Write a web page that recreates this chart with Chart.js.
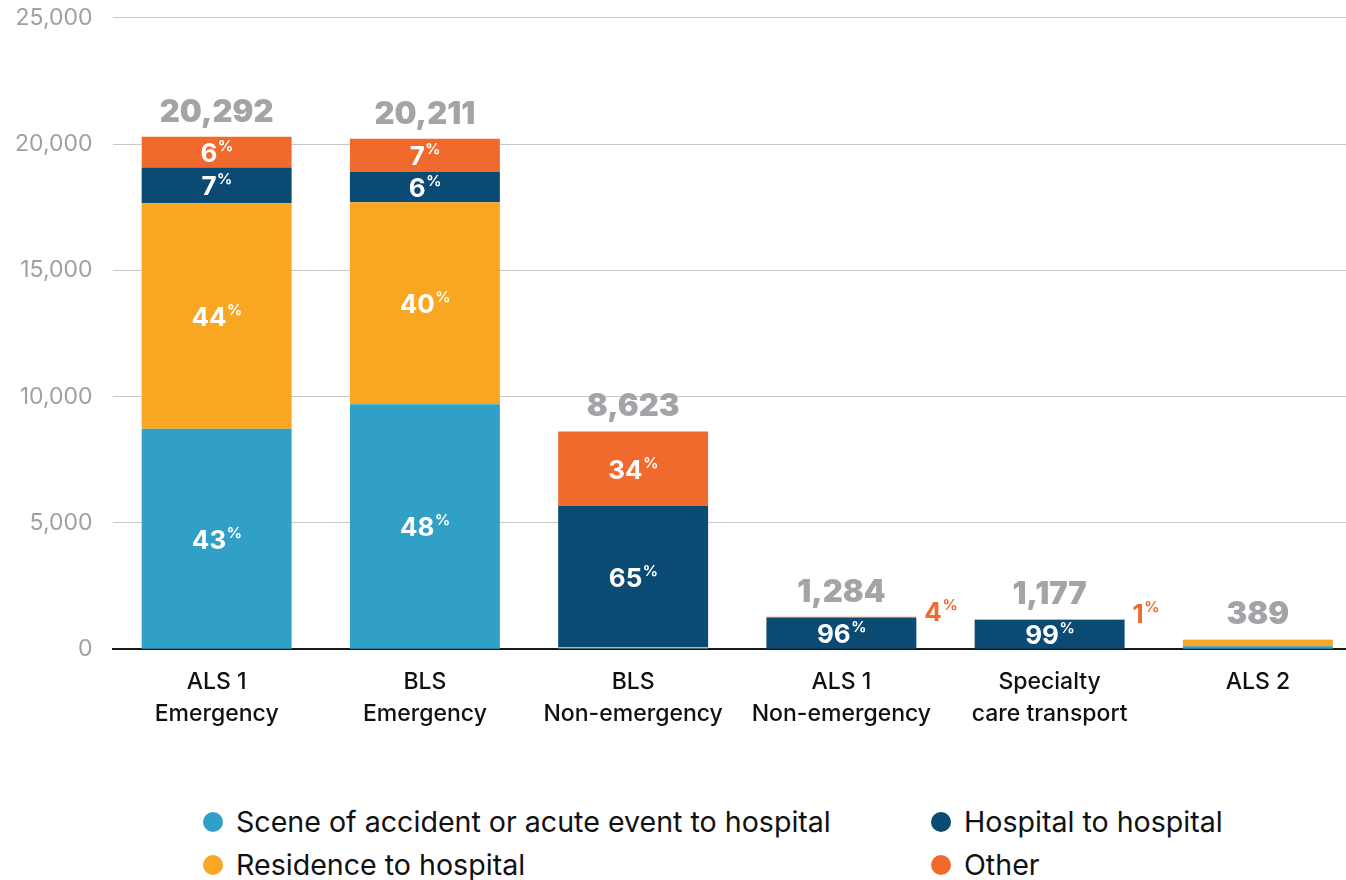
<!DOCTYPE html>
<html>
<head>
<meta charset="utf-8">
<script src="https://cdn.jsdelivr.net/npm/chart.js@4.4.0/dist/chart.umd.min.js"></script>
<style>
  html, body { margin: 0; padding: 0; background: #fff; overflow: hidden; }
  #wrap { position: relative; width: 1362px; height: 880px; }
  #legend { position: absolute; left: 0; top: 800px; width: 1346px; font-family: Inter, "Noto Sans", sans-serif; font-size: 28.6px; color: #111; }
  .item { position: absolute; display: flex; align-items: center; white-space: nowrap; }
  .dot { width: 20px; height: 20px; border-radius: 50%; margin-right: 13px; }
</style>
</head>
<body>
<div id="wrap">
  <canvas id="chart" width="1362" height="739"></canvas>
  <div id="legend"></div>
</div>
<script>
const categories = [["ALS 1", "Emergency"], ["BLS", "Emergency"], ["BLS", "Non-emergency"], ["ALS 1", "Non-emergency"], ["Specialty", "care transport"], ["ALS 2"]];
const totals = [20292, 20211, 8623, 1284, 1177, 389];

const sceneValues = [8726, 9700, 35, 0, 0, 120];
const residenceValues = [8928, 8000, 40, 0, 0, 250];
const hospitalValues = [1420, 1190, 5600, 1233, 1165, 0];
const otherValues = [1218, 1321, 2948, 51, 12, 19];

const scenePct = ["43", "48", null, null, null, null];
const residencePct = ["44", "40", null, null, null, null];
const hospitalPct = ["7", "6", "65", "96", "99", null];
const otherPct = ["6", "7", "34", "4", "1", null];

const yTicks = [0, 5000, 10000, 15000, 20000, 25000];

const FONT = 'Inter, "Noto Sans", sans-serif';

const datasets = [
  { label: 'Scene of accident or acute event to hospital', data: sceneValues, pct: scenePct, backgroundColor: '#31a0c7' },
  { label: 'Residence to hospital', data: residenceValues, pct: residencePct, backgroundColor: '#f9a623' },
  { label: 'Hospital to hospital', data: hospitalValues, pct: hospitalPct, backgroundColor: '#0a4a73' },
  { label: 'Other', data: otherValues, pct: otherPct, backgroundColor: '#f16a2d' }
];

// percent labels inside segments (or beside the bar if too thin) + totals above
const labelPlugin = {
  id: 'labels',
  afterDatasetsDraw(chart) {
    const ctx = chart.ctx;
    ctx.save();
    chart.data.datasets.forEach((ds, di) => {
      const meta = chart.getDatasetMeta(di);
      meta.data.forEach((bar, i) => {
        const txt = ds.pct[i];
        if (!txt) return;
        const h = Math.abs(bar.base - bar.y);
        ctx.font = 'bold 26px ' + FONT;
        const w1 = ctx.measureText(txt).width;
        ctx.font = 'bold 15px ' + FONT;
        const w2 = ctx.measureText('%').width;
        let x, yc, color;
        if (h >= 22) {
          x = bar.x - (w1 + w2) / 2;
          yc = (bar.y + bar.base) / 2;
          color = '#fff';
        } else {
          x = bar.x + bar.width / 2 + 8;
          yc = bar.y - 6;
          color = ds.backgroundColor;
        }
        ctx.fillStyle = color;
        ctx.textAlign = 'left';
        ctx.textBaseline = 'alphabetic';
        ctx.font = 'bold 26px ' + FONT;
        ctx.fillText(txt, x, yc + 10);
        ctx.font = 'bold 15px ' + FONT;
        ctx.fillText('%', x + w1 + 0.5, yc - 1);
      });
    });
    const yScale = chart.scales.y;
    const meta0 = chart.getDatasetMeta(0);
    ctx.fillStyle = '#a3a3a8';
    ctx.font = '900 31px ' + FONT;
    ctx.textAlign = 'center';
    ctx.textBaseline = 'alphabetic';
    totals.forEach((t, i) => {
      const y = yScale.getPixelForValue(t);
      ctx.fillText(t.toLocaleString('en-US'), meta0.data[i].x, y - 15);
    });
    ctx.restore();
  }
};

const chart = new Chart(document.getElementById('chart'), {
  type: 'bar',
  data: { labels: categories, datasets: datasets },
  options: {
    responsive: false,
    animation: false,
    layout: { padding: { top: 0, left: 11, right: 0, bottom: 0 } },
    datasets: { bar: { categoryPercentage: 1, barPercentage: 0.72 } },
    plugins: {
      legend: { display: false },
      tooltip: { enabled: false }
    },
    scales: {
      x: {
        stacked: true,
        grid: { display: false },
        border: { display: true, color: '#1a1a1a', width: 2 },
        ticks: {
          color: '#111',
          padding: 8,
          maxRotation: 0,
          autoSkip: false,
          font: { family: FONT, size: 23, weight: '500', lineHeight: 1.43 }
        }
      },
      y: {
        stacked: true,
        min: 0,
        max: 25000,
        afterBuildTicks(scale) { scale.ticks = yTicks.map(v => ({ value: v })); },
        grid: { color: '#c8c8c8', lineWidth: 1, drawTicks: true, tickLength: 16, tickColor: 'rgba(0,0,0,0)' },
        border: { display: false },
        ticks: {
          color: '#a0a0a0',
          padding: 4,
          font: { family: FONT, size: 23 },
          callback: v => v.toLocaleString('en-US')
        }
      }
    }
  },
  plugins: [labelPlugin]
});

// legend in two columns, built from the chart datasets
const legendOrder = [0, 2, 1, 3];
const legendPos = [[203, 4], [931, 4], [203, 47], [931, 47]];
const legendEl = document.getElementById('legend');
legendOrder.forEach((di, k) => {
  const ds = chart.data.datasets[di];
  const item = document.createElement('div');
  item.className = 'item';
  item.style.left = legendPos[k][0] + 'px';
  item.style.top = legendPos[k][1] + 'px';
  item.innerHTML = '<span class="dot" style="background:' + ds.backgroundColor + '"></span><span>' + ds.label + '</span>';
  legendEl.appendChild(item);
});
</script>
</body>
</html>
